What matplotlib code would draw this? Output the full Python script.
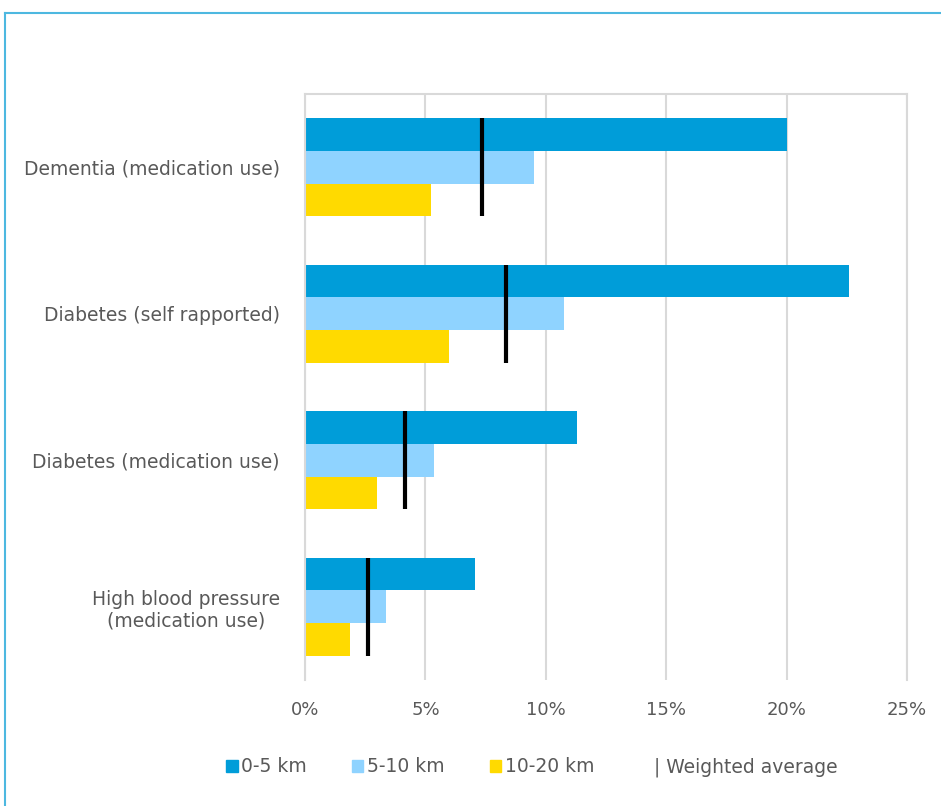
import matplotlib
matplotlib.use("Agg")
import matplotlib.pyplot as plt
from matplotlib.patches import Patch
from matplotlib.lines import Line2D
import numpy as np

categories = ["Dementia (medication use)", "Diabetes (self rapported)",
              "Diabetes (medication use)", "High blood pressure\n(medication use)"]
km_0_5 = [20.0, 22.6, 11.3, 7.05]
km_5_10 = [9.5, 10.75, 5.35, 3.35]
km_10_20 = [5.25, 6.0, 3.0, 1.85]
weighted_avg = [7.35, 8.35, 4.15, 2.6]
series_labels = ["0-5 km", "5-10 km", "10-20 km"]
xticks = [0, 5, 10, 15, 20, 25]

colors = ["#009DD9", "#8FD3FF", "#FFDA00"]
text_color = "#595959"

fig = plt.figure(figsize=(9.41, 8.06), dpi=100)
ax = fig.add_axes([305/941, (806-680)/806, (907-305)/941, (680-94)/806])

y = np.arange(len(categories))
h = 0.222
for i, (vals, col, lab) in enumerate(zip([km_0_5, km_5_10, km_10_20], colors, series_labels)):
    ax.barh(y + (i - 1) * h, vals, height=h, color=col, label=lab, zorder=2)

for yi, v in zip(y, weighted_avg):
    ax.plot([v, v], [yi - 1.5 * h, yi + 1.5 * h], color="black", lw=3.0, zorder=3,
            solid_capstyle="butt")

ax.set_xlim(0, 25)
ax.set_ylim(len(categories) - 0.5, -0.5)
ax.set_xticks(xticks)
ax.set_xticklabels([f"{t}%" for t in xticks])
ax.set_yticks(y)
ax.set_yticklabels(categories)
ax.tick_params(axis="x", length=0, labelsize=13, colors=text_color, pad=15)
ax.tick_params(axis="y", length=0, labelsize=13.5, colors=text_color, pad=18)
ax.grid(axis="x", color="#d9d9d9", lw=1.5, zorder=0)
for lab in ax.get_yticklabels():
    lab.set_multialignment("center")
for s in ax.spines.values():
    s.set_color("#d9d9d9")
    s.set_linewidth(1.5)
ax.spines["bottom"].set_visible(False)

handles = [Patch(color=c) for c in colors] + [Line2D([], [], lw=0)]
labels = series_labels + ["| Weighted average"]
fig.legend(handles, labels, loc="center", bbox_to_anchor=(532/941, 1 - 767/806),
           ncol=4, frameon=False, fontsize=13.5, labelcolor=text_color,
           handlelength=0.6, handleheight=0.6, handletextpad=0.2, columnspacing=2.4)

# frame border (top and left)
fig.add_artist(Line2D([5/941, 1], [1 - 13/806, 1 - 13/806], color="#4DB8E0", lw=1.5,
                      transform=fig.transFigure))
fig.add_artist(Line2D([5/941, 5/941], [0, 1 - 13/806], color="#4DB8E0", lw=1.5,
                      transform=fig.transFigure))

fig.savefig("out.png", dpi=100)
